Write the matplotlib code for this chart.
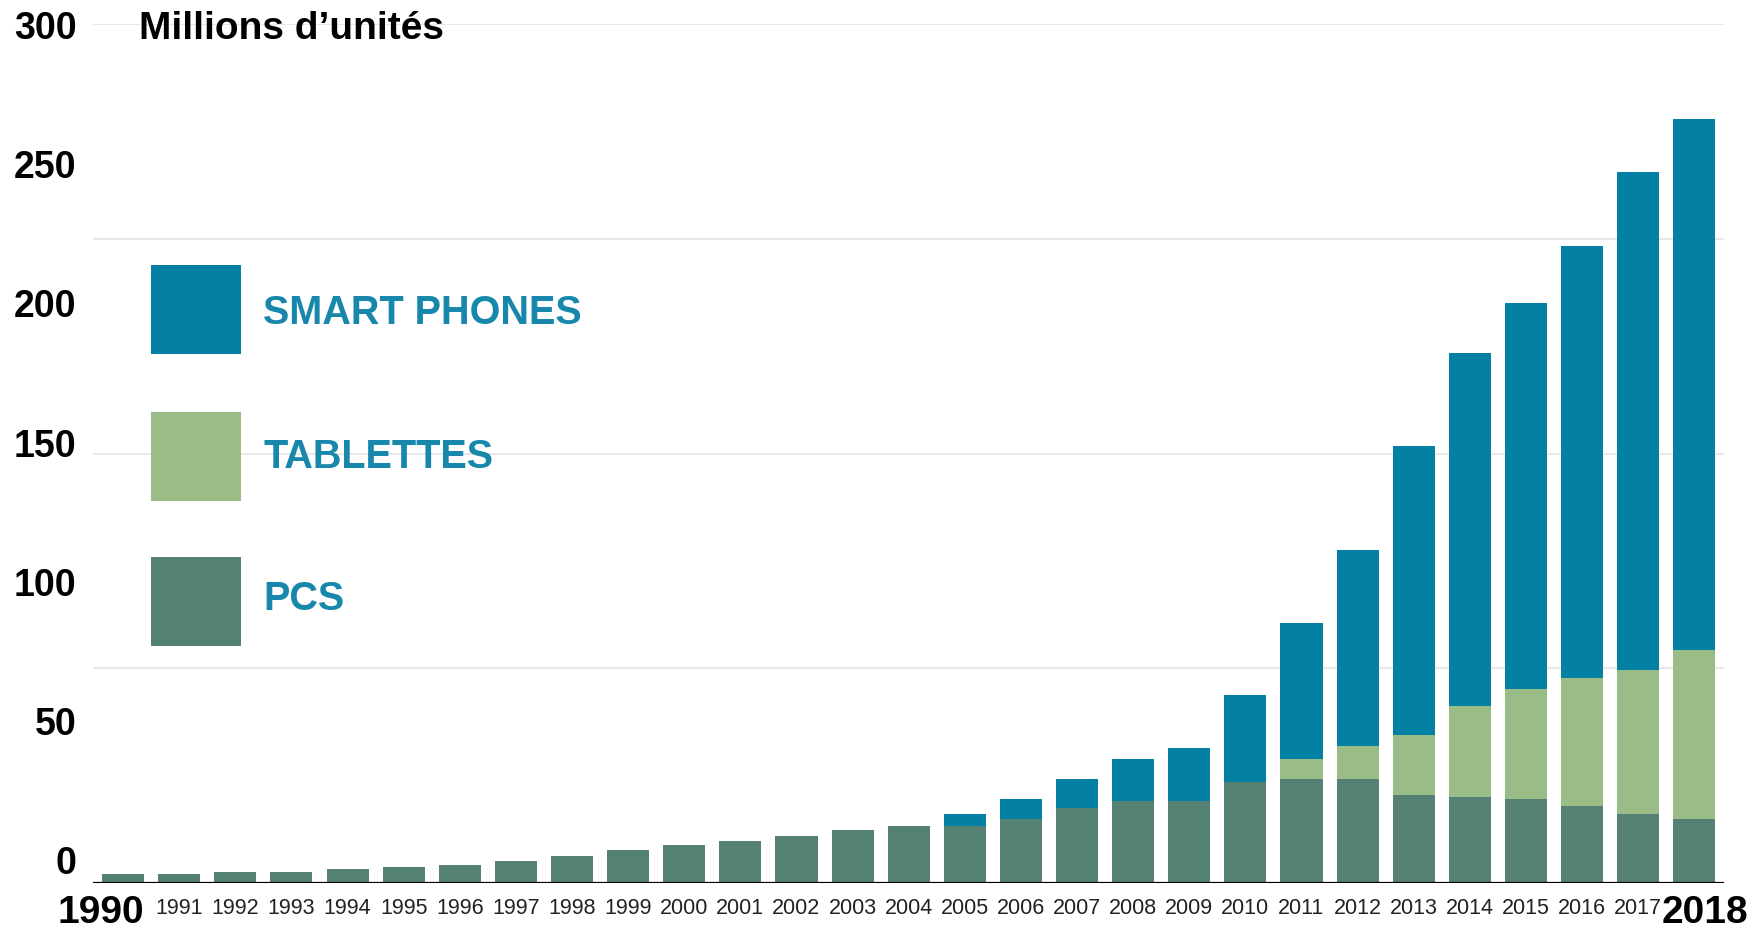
import matplotlib.pyplot as plt
from matplotlib.patches import Rectangle

plt.rcParams['font.family'] = ['Liberation Sans', 'DejaVu Sans']

# Données (millions d'unités)
years = list(range(1990, 2019))
pcs = [3.2, 3.2, 4.0, 4.0, 4.8, 5.6, 6.4, 7.8, 9.3, 11.7,
       13.3, 14.8, 16.3, 18.6, 20.0, 20.0, 22.4, 26.3, 28.6, 28.6,
       35.2, 36.2, 36.2, 30.8, 30.0, 29.3, 27.0, 24.0, 22.4]
tablettes = [0, 0, 0, 0, 0, 0, 0, 0, 0, 0,
             0, 0, 0, 0, 0, 0, 0, 0, 0, 0,
             0, 7.0, 11.5, 20.9, 31.7, 38.5, 44.5, 50.4, 59.0]
smartphones = [0, 0, 0, 0, 0, 0, 0, 0, 0, 0,
               0, 0, 0, 0, 0, 4.1, 7.1, 10.2, 14.7, 18.6,
               30.3, 47.6, 68.6, 101.1, 123.3, 134.7, 151.0, 174.1, 185.4]

series = ["SMART PHONES", "TABLETTES", "PCS"]
ytick_vals = [0, 50, 100, 150, 200, 250, 300]
grid_vals = [75, 150, 225, 300]

c_pc = "#548174"
c_tab = "#9abd87"
c_smart = "#0480a4"
c_text = "#1787ab"

fig = plt.figure(figsize=(17.56, 9.28), dpi=100)
ax = fig.add_axes([0.053, 0.0474, 0.9288, 0.9256])

bar_w = 0.75
bottom_tab = pcs
bottom_smart = [p + t for p, t in zip(pcs, tablettes)]

ax.bar(years, pcs, width=bar_w, color=c_pc, zorder=3)
ax.bar(years, tablettes, width=bar_w, bottom=bottom_tab, color=c_tab, zorder=3)
ax.bar(years, smartphones, width=bar_w, bottom=bottom_smart, color=c_smart, zorder=3)

# grille et ligne de base
for g in grid_vals:
    ax.axhline(g, color="#e6e6e6", lw=1.3, zorder=0)
ax.axhline(0, color="black", lw=1.6, zorder=4)

ax.set_xlim(years[0] - 0.535, years[-1] + 0.53)
ax.set_ylim(0, 300)

for s in ax.spines.values():
    s.set_visible(False)

# étiquettes de l'axe y (légèrement décalées comme l'original)
offset = 8.4
ytick_pos = [offset + v * (300 - offset) / 300 for v in ytick_vals]
ax.set_yticks(ytick_pos, [str(v) for v in ytick_vals])
ax.tick_params(axis="y", length=0, pad=12, labelsize=27, labelcolor="black")
for lab in ax.get_yticklabels():
    lab.set_fontweight("bold")

# étiquettes de l'axe x
xlabels = [str(y) for y in years]
xlabels[0] = ""
xlabels[-1] = ""
ax.set_xticks(years, xlabels)
ax.tick_params(axis="x", length=0, pad=10, labelsize=15.5, labelcolor="#222222")

ax.text(years[0] + bar_w / 2, -8.9, str(years[0]), ha="right",
        va="center_baseline", fontsize=28, fontweight="bold", clip_on=False)
ax.text(years[-1] - bar_w / 2 - 0.2, -8.9, str(years[-1]), ha="left",
        va="center_baseline", fontsize=28, fontweight="bold", clip_on=False)

# titre
ax.text(0.0282, 1.0, "Millions d\u2019unités", transform=ax.transAxes,
        ha="left", va="center_baseline", fontsize=28, fontweight="bold")

# légende
leg_y = [0.6158, 0.4447, 0.2759]
leg_ty = [0.6690, 0.5017, 0.3370]
for name, col, y0, ty in zip(series, [c_smart, c_tab, c_pc], leg_y, leg_ty):
    ax.add_patch(Rectangle((0.0356, y0), 0.0552, 0.1036, transform=ax.transAxes,
                           facecolor=col, edgecolor="none", zorder=5))
    ax.text(0.1042, ty, name, transform=ax.transAxes, ha="left",
            va="center_baseline", fontsize=28.5, fontweight="bold", color=c_text)

plt.savefig("out.png", dpi=100)
